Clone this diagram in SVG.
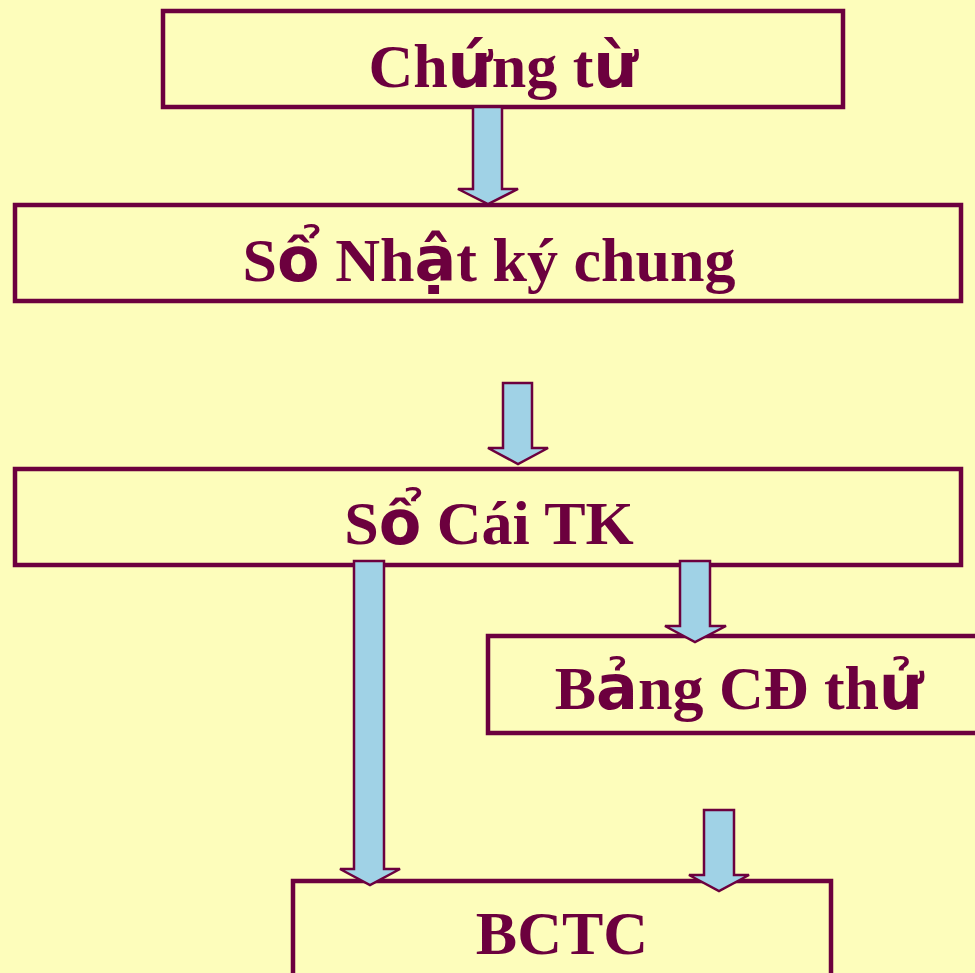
<svg xmlns="http://www.w3.org/2000/svg" width="975" height="973" viewBox="0 0 975 973">
<style>
.box{fill:none;stroke:#6C003E;stroke-width:4.5}
.lbl{font-family:"Liberation Serif","Times New Roman",serif;font-weight:bold;font-size:62px;fill:#6C003E;text-anchor:middle}
.vn{font-family:"DejaVu Sans",sans-serif}
.arr{fill:#A0D2E6;stroke:#6C003E;stroke-width:2.5;stroke-linejoin:miter}
</style>
<rect width="975" height="973" fill="#FDFDBB"/>
<g id="chung-tu"><rect class="box" x="163" y="11" width="680" height="96"/><text class="lbl" x="503" y="87">Ch<tspan class="vn">ứ</tspan>ng t<tspan class="vn">ừ</tspan></text></g>
<g id="so-nhat-ky-chung"><rect class="box" x="15" y="205" width="946" height="96"/><text class="lbl" x="489" y="281">S<tspan class="vn">ổ</tspan> Nh<tspan class="vn">ậ</tspan>t ký chung</text></g>
<g id="so-cai-tk"><rect class="box" x="15" y="469" width="946" height="96"/><text class="lbl" x="489" y="544">S<tspan class="vn">ổ</tspan> Cái TK</text></g>
<g id="bang-cd-thu"><rect class="box" x="488" y="636" width="510" height="97"/><text class="lbl" x="739" y="709">B<tspan class="vn">ả</tspan>ng CĐ th<tspan class="vn">ử</tspan></text></g>
<g id="bctc"><rect class="box" x="293" y="881" width="538" height="110"/><text class="lbl" x="562" y="954">BCTC</text></g>
<g id="connectors">
<path class="arr" d="M473,107 H502 V189 H518 L488,204 L458,189 H473 Z"/>
<path class="arr" d="M503,383 H532 V448 H548 L518,464 L488,448 H503 Z"/>
<path class="arr" d="M354,561 H384 V869 H400 L370,885 L340,869 H354 Z"/>
<path class="arr" d="M680,561 H710 V626 H726 L695,642 L665,626 H680 Z"/>
<path class="arr" d="M704,810 H734 V875 H749 L719,891 L689,875 H704 Z"/>
</g>
</svg>
